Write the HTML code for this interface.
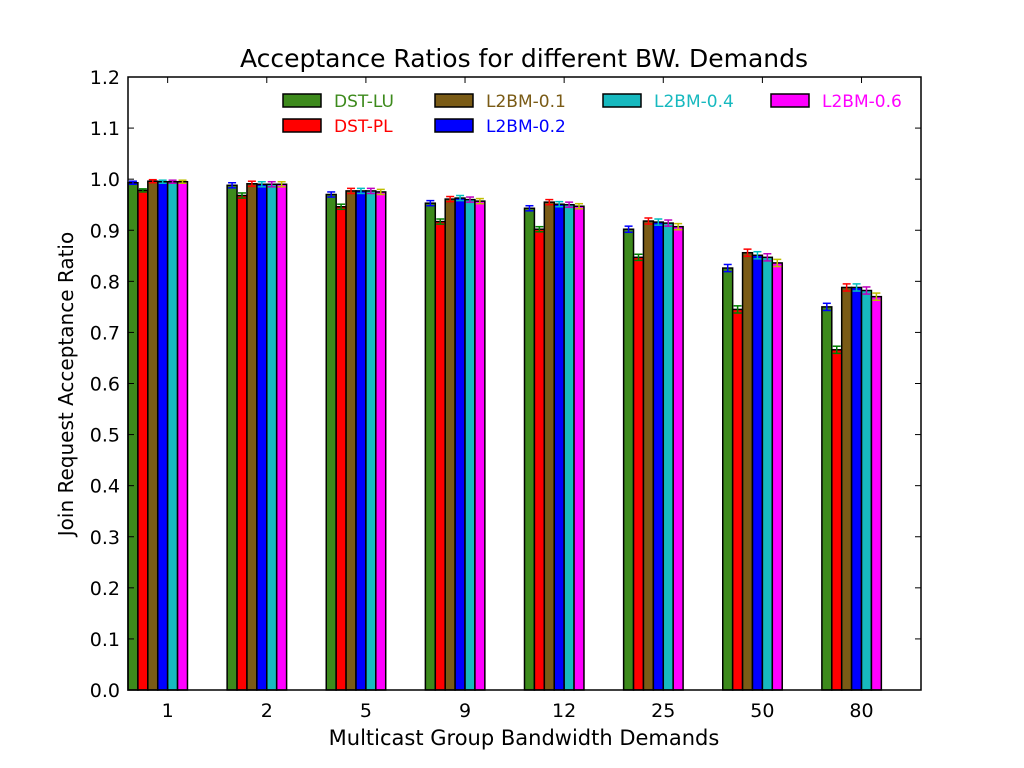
<!DOCTYPE html>
<html><head><meta charset="utf-8"><style>
body{margin:0;background:#fff;}
svg{display:block;font-family:"DejaVu Sans","Liberation Sans",sans-serif;}
</style></head><body>
<svg id="chart" width="1024" height="768">
<rect width="1024" height="768" fill="#fff"/>
<text x="524" y="67" font-size="25" text-anchor="middle">Acceptance Ratios for different BW. Demands</text>
<text x="524" y="745" font-size="21" text-anchor="middle">Multicast Group Bandwidth Demands</text>
<text transform="translate(73,384) rotate(-90)" font-size="20" text-anchor="middle">Join Request Acceptance Ratio</text>
<g id="bars"></g>
<g id="axes"></g>
<g id="legend"></g>
</svg>
<script>
const categories = ["1","2","5","9","12","25","50","80"];
const seriesNames = ["DST-LU","DST-PL","L2BM-0.1","L2BM-0.2","L2BM-0.4","L2BM-0.6"];
const dstLU   = [0.993,0.988,0.970,0.953,0.943,0.902,0.826,0.750];
const dstPL   = [0.978,0.968,0.946,0.917,0.902,0.847,0.745,0.666];
const l2bm01  = [0.996,0.991,0.977,0.961,0.955,0.918,0.856,0.788];
const l2bm02  = [0.995,0.990,0.977,0.963,0.951,0.916,0.851,0.788];
const l2bm04  = [0.995,0.990,0.977,0.960,0.950,0.914,0.847,0.782];
const l2bm06  = [0.995,0.990,0.975,0.957,0.947,0.907,0.836,0.770];
const errors  = [0.003,0.005,0.005,0.005,0.005,0.006,0.007,0.007];
const yTicks = ["0.0","0.1","0.2","0.3","0.4","0.5","0.6","0.7","0.8","0.9","1.0","1.1","1.2"];
const series = [dstLU,dstPL,l2bm01,l2bm02,l2bm04,l2bm06];
const colors = ["#3d8a1c","#ff0000","#7a5b16","#0000ff","#17b9bf","#ff00ff"];
const errColors = ["#0000ff","#008000","#ff0000","#00bfbf","#bf00bf","#bfbf00"];
const L=128,R=921,T=77,B=690;
const xs=v=>L+(v/8)*(R-L);
const ys=v=>B-(v/1.2)*(B-T);
const NS="http://www.w3.org/2000/svg";
function mk(tag,attrs,parent){const e=document.createElementNS(NS,tag);for(const k in attrs)e.setAttribute(k,attrs[k]);parent.appendChild(e);return e;}
const gb=document.getElementById('bars');
series.forEach((s,si)=>{
  s.forEach((v,ci)=>{
    const x0=xs(ci+si*0.1), x1=xs(ci+(si+1)*0.1);
    const r=mk('rect',{x:x0,y:ys(v),width:x1-x0,height:B-ys(v),fill:colors[si],stroke:'#000','stroke-width':1.5},gb);
    
    
    const cx=(x0+x1)/2,e=errors[ci];
    const g=mk('g',{stroke:errColors[si],'stroke-width':1.5},gb);
    
    
    mk('line',{x1:cx,x2:cx,y1:ys(v+e),y2:ys(v-e)},g);
    mk('line',{x1:cx-4,x2:cx+4,y1:ys(v+e),y2:ys(v+e)},g);
    mk('line',{x1:cx-4,x2:cx+4,y1:ys(v-e),y2:ys(v-e)},g);
  });
});
const ga=document.getElementById('axes');
const fr=mk('rect',{x:L,y:T,width:R-L,height:B-T,fill:'none',stroke:'#000','stroke-width':1.5},ga);


yTicks.forEach(t=>{
  const y=ys(parseFloat(t));
  mk('line',{x1:L,x2:L+6,y1:y,y2:y,stroke:'#000'},ga);
  mk('line',{x1:R,x2:R-6,y1:y,y2:y,stroke:'#000'},ga);
  const tx=mk('text',{x:L-8,y:y+7,'font-size':19,'text-anchor':'end'},ga);
  tx.textContent=t;
  
  
});
categories.forEach((c,ci)=>{
  const x=xs(ci+0.4);
  mk('line',{x1:x,x2:x,y1:B,y2:B-6,stroke:'#000'},ga);
  mk('line',{x1:x,x2:x,y1:T,y2:T+6,stroke:'#000'},ga);
  const tx=mk('text',{x:x,y:B+27,'font-size':19,'text-anchor':'middle'},ga);
  tx.textContent=c;
  
  
});
const gl=document.getElementById('legend');
const lpos=[[283,94],[283,119],[435,94],[435,119],[603,94],[771,94]];
seriesNames.forEach((n,si)=>{
  const [px,py]=lpos[si];
  const g=mk('g',{},gl);
  
  
  mk('rect',{x:px,y:py,width:38,height:13,fill:colors[si],stroke:'#000','stroke-width':1.5},g);
  const t=mk('text',{x:px+51,y:py+13,'font-size':17,fill:colors[si]},g);
  t.textContent=n;
});
</script>
</body></html>
